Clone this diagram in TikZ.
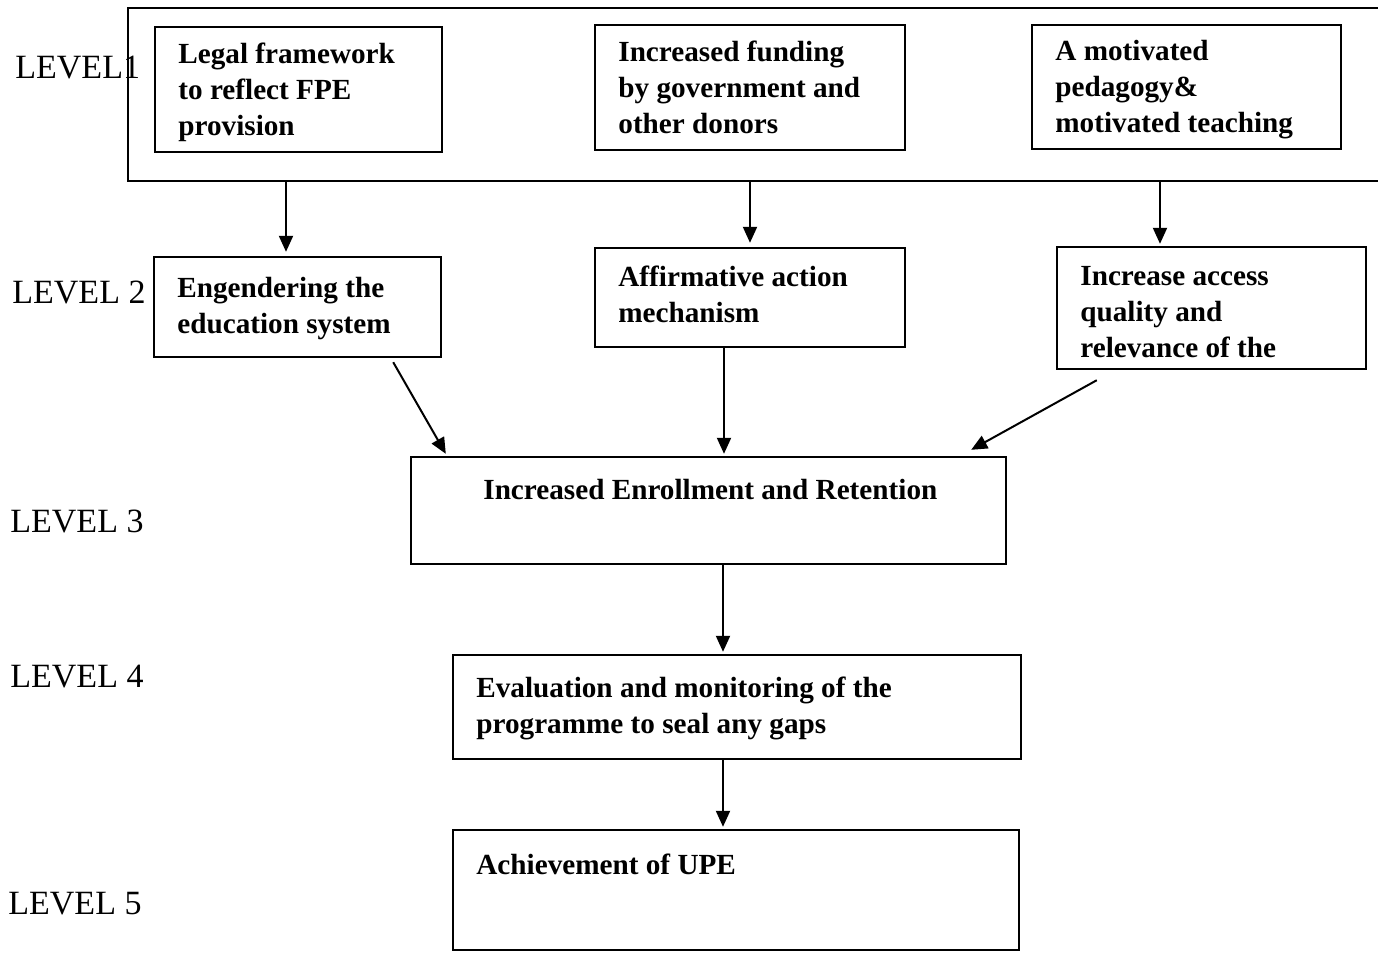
\documentclass[tikz,border=0pt]{standalone}
\usepackage{fontspec}
\setmainfont{Liberation Serif}
\usetikzlibrary{fit,arrows.meta}

\begin{document}
\begin{tikzpicture}[x=0.5pt,y=-0.5pt,
   box/.style={draw,line width=1.2pt,inner sep=0pt},
   txt/.style={anchor=north west,inner sep=0pt,align=left,font=\fontsize{14.6}{18}\selectfont\bfseries},
   lvl/.style={anchor=base west,inner sep=0pt,font=\fontsize{17}{20}\selectfont},
   arr/.style={line width=1pt,-{Triangle[length=8pt,width=7pt]}}]
   \useasboundingbox (0,0) rectangle (1378,960);
   % level labels
   \node[lvl] (lv1) at (15,78) {LEVEL1};
   \node[lvl] (lv2) at (12,303) {LEVEL 2};
   \node[lvl] (lv3) at (10,532) {LEVEL 3};
   \node[lvl] (lv4) at (10,687) {LEVEL 4};
   \node[lvl] (lv5) at (8,914) {LEVEL 5};
   % level 1
   \node[box,line width=1.3pt,fit={(128,8) (1420,181)}] (level1) {};
   \node[box,fit={(155,27) (442,152)}] (legal) {};
   \node[txt] (legaltxt) at (178,38) {\strut Legal framework\\to reflect FPE\\provision};
   \node[box,fit={(595,25) (905,150)}] (funding) {};
   \node[txt] (fundingtxt) at (618,36) {\strut Increased funding\\by government and\\other donors};
   \node[box,fit={(1032,25) (1341,149)}] (pedagogy) {};
   \node[txt] (pedagogytxt) at (1055,35) {\strut A motivated\\pedagogy\&\\motivated teaching};
   % level 2
   \node[box,fit={(154,257) (441,357)}] (engender) {};
   \node[txt] (engendertxt) at (177,272) {\strut Engendering the\\education system};
   \node[box,fit={(595,248) (905,347)}] (affirm) {};
   \node[txt] (affirmtxt) at (618,261) {\strut Affirmative action\\mechanism};
   \node[box,fit={(1057,247) (1366,369)}] (access) {};
   \node[txt] (accesstxt) at (1080,260) {\strut Increase access\\quality and\\relevance of the};
   % levels 3 to 5
   \node[box,fit={(411,457) (1006,564)}] (enroll) {};
   \node[txt] (enrolltxt) at (483,474) {\strut Increased Enrollment and Retention};
   \node[box,fit={(453,655) (1021,759)}] (evaluate) {};
   \node[txt] (evaluatetxt) at (476,672) {\strut Evaluation and monitoring of the\\programme to seal any gaps};
   \node[box,fit={(453,830) (1019,950)}] (upe) {};
   \node[txt] (upetxt) at (476,849) {\strut Achievement of UPE};
   % arrows
   \draw[arr] ([xshift=-5.75pt]engender.north |- level1.south) -- ([xshift=-5.75pt,yshift=2pt]engender.north);
   \draw[arr] (affirm.north |- level1.south) -- ([yshift=2pt]affirm.north);
   \draw[arr] ([xshift=-25.75pt]access.north |- level1.south) -- ([xshift=-25.75pt,yshift=1pt]access.north);
   \draw[arr] ([shift={(-24.5pt,-2pt)}]engender.south east) -- ([shift={(18pt,1pt)}]enroll.north west);
   \draw[arr] ([xshift=-13pt]affirm.south) -- ([xshift=-13pt,yshift=1pt]affirm.south |- enroll.north);
   \draw[arr] ([shift={(20.5pt,-5pt)}]access.south west) -- ([shift={(-18pt,3pt)}]enroll.north east);
   \draw[arr] ([xshift=7.25pt]enroll.south) -- ([xshift=7.25pt,yshift=1pt]enroll.south |- evaluate.north);
   \draw[arr] ([xshift=-7pt]evaluate.south) -- ([xshift=-7pt,yshift=1pt]evaluate.south |- upe.north);
\end{tikzpicture}
\end{document}
